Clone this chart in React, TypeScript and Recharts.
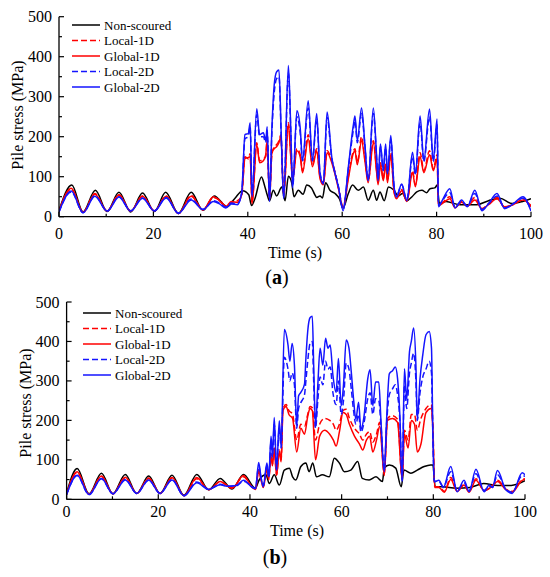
import { Legend, Line, LineChart, XAxis, YAxis } from "recharts";

type Pt = [number, number]; // [time (s), stress (MPa)]

// ---- panel (a) ----
const nonScouredA: Pt[] = [
  [0, 15], [2.7, 79], [5.1, 12], [7.7, 66], [10.2, 13], [12.7, 61], [15.2, 12], [17.7, 59], [20.2, 13],
  [22.6, 61], [25.3, 8], [28, 61], [30.5, 16], [32.9, 52], [35.6, 25], [37.2, 45], [38.9, 65], [40.2, 55],
  [40.8, 28], [41.5, 45], [42.9, 99], [43.5, 80], [44.1, 55], [44.6, 40], [45.4, 66], [46.1, 52], [47.2, 74],
  [47.9, 40], [48.6, 101], [49.3, 85], [49.8, 50], [50.7, 66], [51.7, 56], [52.5, 79], [53.5, 72], [54.2, 55],
  [54.6, 48], [55.3, 52], [55.8, 47], [56.5, 85], [57.4, 66], [58.5, 58], [59.4, 45], [60.2, 22], [61.3, 58],
  [62.2, 79], [63.4, 66], [64.5, 74], [65.5, 41], [66.6, 66], [67.3, 41], [68, 62], [68.9, 40], [69.8, 74],
  [70.8, 68], [71.9, 52], [72.8, 58], [73.7, 40], [74.8, 50], [75.8, 62], [76.9, 66], [77.9, 60], [78.6, 70],
  [79.6, 72], [80.1, 79], [80.6, 33], [82, 38], [85, 30], [88.5, 30], [91, 40], [93.4, 46], [96, 33],
  [98.2, 38], [100, 45],
];

const local1DA: Pt[] = [
  [0, 14], [2.6, 69], [5.1, 11], [7.6, 58], [10.2, 14], [12.7, 55], [15.2, 14], [17.7, 52], [20.2, 14],
  [22.7, 52], [25.3, 8], [28, 53], [30.5, 17], [32.7, 48], [34, 42], [35.3, 27], [36.5, 36], [37.8, 40],
  [38.7, 52], [39.4, 150], [40.1, 145], [40.5, 158], [40.9, 35], [41.9, 185], [42.5, 140], [43.3, 145],
  [43.8, 150], [44.1, 195], [44.6, 45], [45.1, 155], [45.6, 175], [46.1, 180], [46.6, 190], [47, 205],
  [47.6, 55], [48.6, 235], [49.1, 155], [49.5, 95], [50.4, 170], [51.1, 155], [51.6, 115], [52.8, 205],
  [53.7, 130], [54.6, 170], [55.3, 100], [56, 85], [56.8, 165], [57.8, 140], [58.5, 110], [59.2, 72],
  [60.2, 25], [61.3, 100], [62.4, 165], [62.7, 170], [63.2, 135], [64.1, 200], [64.8, 145], [65.5, 90],
  [66.6, 190], [67.3, 115], [67.6, 85], [68.1, 135], [68.7, 95], [69.2, 135], [69.6, 90], [70.3, 160],
  [71, 62], [71.5, 48], [72.6, 68], [73.7, 40], [74.9, 115], [75.5, 80], [76.5, 160], [77.3, 115],
  [78.5, 165], [79.3, 120], [80.1, 155], [80.4, 30], [81.2, 35], [82.8, 50], [83.9, 24], [85.3, 38],
  [86.5, 27], [88.1, 48], [89.6, 20], [91, 32], [92.8, 48], [94.4, 24], [96.2, 30], [98.3, 44], [100, 25],
];

const global1DA: Pt[] = [
  [0, 14], [2.6, 71], [5.1, 11], [7.6, 56], [10.2, 14], [12.7, 54], [15.2, 14], [17.7, 51], [20.2, 14],
  [22.7, 51], [25.3, 8], [28, 51], [30.5, 17], [32.7, 50], [34, 40], [35.3, 25], [36.5, 38], [37.8, 36],
  [38.7, 55], [39.4, 145], [40.1, 148], [40.5, 150], [40.9, 32], [41.9, 180], [42.5, 135], [43.3, 140],
  [43.8, 155], [44.1, 190], [44.6, 42], [45.1, 160], [45.6, 170], [46.1, 175], [46.6, 185], [47, 200],
  [47.6, 50], [48.6, 232], [49.1, 150], [49.5, 90], [50.4, 165], [51.1, 150], [51.6, 110], [52.8, 195],
  [53.7, 125], [54.6, 165], [55.3, 95], [56, 80], [56.8, 160], [57.8, 135], [58.5, 105], [59.2, 70],
  [60.2, 22], [61.3, 95], [62.4, 160], [62.7, 165], [63.2, 130], [64.1, 190], [64.8, 140], [65.5, 85],
  [66.6, 185], [67.3, 110], [67.6, 80], [68.1, 130], [68.7, 90], [69.2, 130], [69.6, 85], [70.3, 155],
  [71, 60], [71.5, 45], [72.6, 65], [73.7, 38], [74.9, 110], [75.5, 75], [76.5, 150], [77.3, 110],
  [78.5, 155], [79.3, 115], [80.1, 145], [80.4, 28], [81.2, 33], [82.8, 45], [83.9, 22], [85.3, 36],
  [86.5, 26], [88.1, 42], [89.6, 20], [91, 30], [92.8, 45], [94.4, 25], [96.2, 30], [98.3, 42], [100, 28],
];

const local2DA: Pt[] = [
  [0, 12], [2.6, 62], [5.1, 10], [7.6, 52], [10.2, 14], [12.7, 50], [15.2, 15], [17.7, 47], [20.2, 15],
  [22.7, 48], [25.3, 9], [28, 44], [30.5, 18], [32.8, 40], [34, 34], [35.3, 24], [36.5, 34], [37.8, 32],
  [38.7, 58], [39.4, 195], [40.1, 200], [40.5, 225], [40.9, 55], [41.9, 255], [42.5, 200], [43.3, 200],
  [43.8, 185], [44.1, 215], [44.6, 42], [45.1, 210], [45.6, 310], [46.1, 345], [46.6, 350], [47.1, 195],
  [47.6, 50], [48.6, 360], [49.1, 215], [49.5, 75], [50.4, 250], [51.1, 210], [51.6, 140], [52.8, 272],
  [53.7, 140], [54.6, 245], [55.3, 110], [56, 85], [56.8, 248], [57.8, 145], [58.5, 108], [59.2, 76],
  [60.2, 18], [61.3, 120], [62.4, 220], [62.7, 240], [63.2, 185], [64.1, 258], [64.8, 178], [65.5, 92],
  [66.6, 258], [67.3, 145], [67.6, 92], [68.1, 175], [68.7, 115], [69.2, 172], [69.6, 108], [70.3, 192],
  [71, 75], [71.5, 52], [72.6, 80], [73.7, 42], [74.9, 150], [75.5, 105], [76.5, 235], [77.3, 138],
  [78.5, 250], [79.3, 138], [80.1, 230], [80.4, 28], [81.2, 40], [82.8, 60], [83.9, 24], [85.3, 38],
  [86.5, 27], [88.1, 58], [89.6, 18], [91, 32], [92.8, 52], [94.4, 22], [96.2, 32], [98.3, 46], [100, 18],
];

const global2DA: Pt[] = [
  [0, 12], [2.6, 64], [5.1, 10], [7.6, 51], [10.2, 14], [12.7, 49], [15.2, 14], [17.7, 46], [20.2, 14],
  [22.7, 47], [25.3, 8], [28, 42], [30.5, 18], [32.7, 38], [34, 32], [35.3, 22], [36.5, 32], [37.8, 30],
  [38.7, 60], [39.4, 205], [40.1, 208], [40.5, 235], [40.9, 50], [41.9, 270], [42.5, 205], [43.3, 210],
  [43.8, 190], [44.1, 225], [44.6, 38], [45.1, 220], [45.6, 330], [46.1, 362], [46.6, 367], [47.1, 200],
  [47.6, 45], [48.6, 378], [49.1, 222], [49.5, 72], [50.4, 265], [51.1, 222], [51.6, 140], [52.8, 290],
  [53.7, 140], [54.6, 258], [55.3, 108], [56, 82], [56.8, 262], [57.8, 148], [58.5, 108], [59.2, 74],
  [60.2, 15], [61.3, 124], [62.4, 232], [62.7, 252], [63.2, 190], [64.1, 272], [64.8, 182], [65.5, 90],
  [66.6, 272], [67.3, 148], [67.6, 90], [68.1, 182], [68.7, 116], [69.2, 182], [69.6, 107], [70.3, 203],
  [71, 74], [71.5, 49], [72.6, 82], [73.7, 40], [74.9, 161], [75.5, 107], [76.5, 252], [77.3, 140],
  [78.5, 269], [79.3, 140], [80.1, 244], [80.4, 25], [81.2, 41], [82.8, 70], [83.9, 22], [85.3, 42],
  [86.5, 25], [88.1, 66], [89.6, 15], [91, 33], [92.8, 58], [94.4, 20], [96.2, 32], [98.3, 50], [100, 14],
];

// ---- panel (b) ----
const nonScouredB: Pt[] = [
  [0, 15], [2.3, 78], [4.9, 14], [7.6, 66], [10.1, 14], [12.8, 63], [15.3, 15], [17.9, 59], [20.4, 15],
  [23, 61], [25.6, 10], [28.4, 63], [31, 24], [33.5, 53], [36.1, 26], [38.6, 63], [41.2, 28], [42, 49],
  [43.5, 62], [44.2, 40], [45.3, 62], [46.4, 36], [47.5, 74], [48.6, 79], [49.3, 57], [50, 49], [51.1, 83],
  [52.2, 92], [52.9, 70], [53.7, 92], [54.5, 57], [55.8, 62], [57.3, 57], [58.4, 104], [59.5, 92],
  [60.6, 70], [62, 74], [63.5, 96], [64.5, 53], [66, 49], [67.5, 57], [68.9, 45], [69.3, 79], [70.4, 87],
  [71.8, 79], [73, 32], [73.6, 74], [75.1, 66], [76.5, 74], [78, 83], [79.4, 87], [79.9, 87], [80.4, 32],
  [82, 32], [85, 28], [88, 30], [91, 40], [94, 35], [97, 35], [100, 47],
];

const local1DB: Pt[] = [
  [0, 13], [2.3, 68], [4.9, 13], [7.6, 58], [10.1, 14], [12.8, 55], [15.3, 15], [17.9, 54], [20.4, 15],
  [23, 54], [25.6, 9], [28.4, 52], [31, 25], [33.5, 44], [36.1, 29], [38.6, 57], [40.5, 30], [41.2, 26],
  [41.9, 75], [42.4, 52], [42.9, 32], [43.7, 80], [44.1, 52], [44.6, 115], [44.9, 90], [45.3, 130],
  [45.8, 62], [46.4, 125], [46.8, 100], [47.2, 230], [47.9, 240], [48.5, 225], [49.3, 215], [50.2, 150],
  [51.1, 190], [51.9, 185], [52.6, 215], [53.1, 235], [53.6, 232], [54.3, 150], [55.2, 190], [56.3, 205],
  [57.4, 200], [58.2, 190], [58.8, 175], [59.5, 190], [60.3, 225], [61, 228], [61.7, 205], [62.8, 180],
  [63.9, 165], [64.6, 150], [65.4, 165], [66.1, 172], [66.8, 145], [67.6, 165], [68.3, 195], [69.3, 65],
  [70, 205], [71.1, 212], [72.2, 203], [73.2, 55], [73.7, 175], [74.5, 150], [75.2, 215], [75.9, 215],
  [76.5, 175], [77.3, 205], [78.4, 230], [79.5, 240], [79.9, 190], [80.3, 32], [81.2, 32], [82.4, 20],
  [83.8, 55], [85.2, 22], [86.7, 38], [87.8, 20], [89.3, 52], [91.1, 22], [92.9, 35], [94, 48], [95.8, 26],
  [97.2, 20], [99.4, 50], [100, 52],
];

const global1DB: Pt[] = [
  [0, 13], [2.3, 70], [4.9, 13], [7.6, 59], [10.1, 14], [12.8, 56], [15.3, 15], [17.9, 53], [20.4, 15],
  [23, 55], [25.6, 9], [28.4, 55], [31, 24], [33.5, 45], [36.1, 28], [38.6, 60], [40.5, 30], [41.2, 25],
  [41.9, 70], [42.4, 50], [42.9, 30], [43.7, 75], [44.1, 50], [44.6, 110], [44.9, 85], [45.3, 125],
  [45.8, 60], [46.4, 120], [46.8, 95], [47.2, 225], [47.9, 235], [48.5, 215], [49.3, 205], [50.2, 120],
  [51.1, 180], [51.9, 165], [52.6, 210], [53.1, 230], [53.6, 225], [54.3, 100], [55.2, 160], [56.3, 175],
  [57.4, 165], [58.2, 150], [58.8, 135], [59.5, 170], [60.3, 220], [61, 215], [61.7, 190], [62.8, 160],
  [63.9, 140], [64.6, 125], [65.4, 150], [66.1, 160], [66.8, 120], [67.6, 150], [68.3, 185], [69.3, 60],
  [70, 200], [71.1, 205], [72.2, 195], [73.2, 50], [73.7, 165], [74.5, 130], [75.2, 200], [75.9, 190],
  [76.5, 120], [77.3, 140], [78.4, 220], [79.5, 230], [79.9, 175], [80.3, 30], [81.2, 30], [82.4, 18],
  [83.8, 50], [85.2, 20], [86.7, 36], [87.8, 18], [89.3, 48], [91.1, 22], [92.9, 34], [94, 45], [95.8, 25],
  [97.2, 18], [99.4, 48], [100, 50],
];

const local2DB: Pt[] = [
  [0, 12], [2.3, 60], [4.9, 12], [7.6, 52], [10.1, 14], [12.8, 50], [15.3, 15], [17.9, 48], [20.4, 15],
  [23, 50], [25.6, 9], [28.4, 44], [31, 26], [33.5, 38], [35, 33], [37, 34], [38.6, 46], [40.5, 32],
  [41.2, 28], [41.9, 85], [42.4, 55], [42.9, 35], [43.7, 85], [44.1, 55], [44.6, 145], [44.9, 105],
  [45.3, 190], [45.8, 75], [46.4, 180], [46.8, 130], [47.5, 360], [48.3, 330], [48.7, 300], [49.2, 320],
  [49.7, 290], [50.2, 180], [50.6, 230], [51.1, 245], [51.9, 265], [52.2, 300], [52.6, 350], [53.1, 395],
  [53.6, 400], [53.9, 300], [54.3, 180], [54.8, 250], [55.3, 310], [55.9, 290], [56.5, 350], [57, 330],
  [57.5, 335], [58.1, 270], [58.8, 240], [59.3, 300], [59.9, 215], [60.4, 250], [61, 345], [61.6, 330],
  [62.1, 280], [62.6, 225], [63.1, 190], [63.7, 215], [64.2, 170], [64.9, 195], [65.7, 255], [66.2, 270],
  [66.8, 215], [67.4, 255], [68.1, 250], [68.6, 185], [69.3, 72], [69.8, 190], [70.4, 265], [71.1, 280],
  [71.7, 290], [72.2, 265], [72.7, 200], [73.2, 48], [73.7, 290], [74.2, 230], [74.8, 320], [75.2, 345],
  [75.7, 370], [76.2, 300], [76.5, 200], [77.1, 270], [77.7, 310], [78.4, 330], [79.1, 350], [79.6, 320],
  [79.9, 160], [80.2, 46], [81.2, 45], [82.2, 32], [83.8, 70], [85.2, 22], [86.7, 42], [87.8, 22],
  [89.3, 65], [91.1, 22], [92.2, 34], [92.9, 30], [94, 62], [95.8, 26], [97.2, 18], [99.4, 60], [100, 58],
];

const global2DB: Pt[] = [
  [0, 12], [2.3, 61], [4.9, 12], [7.6, 53], [10.1, 14], [12.8, 49], [15.3, 15], [17.9, 49], [20.4, 15],
  [23, 49], [25.6, 9], [28.4, 42], [31, 25], [33.5, 37], [35, 33], [37, 35], [38.6, 48], [40.5, 30],
  [41.2, 27], [41.9, 93], [42.4, 57], [42.9, 32], [43.7, 92], [44.1, 57], [44.6, 160], [44.9, 109],
  [45.3, 207], [45.8, 74], [46.4, 199], [46.8, 134], [47.5, 430], [48.3, 391], [48.7, 350], [49.2, 395],
  [49.7, 340], [50.2, 186], [50.6, 262], [51.1, 271], [51.9, 292], [52.2, 357], [52.6, 426], [53.1, 460],
  [53.6, 464], [53.9, 340], [54.3, 186], [54.8, 289], [55.3, 383], [55.9, 340], [56.5, 408], [57, 383],
  [57.5, 391], [58.1, 314], [58.8, 271], [59.3, 357], [59.9, 237], [60.4, 289], [61, 404], [61.6, 383],
  [62.1, 323], [62.6, 254], [63.1, 203], [63.7, 246], [64.2, 177], [64.9, 212], [65.7, 306], [66.2, 328],
  [66.8, 237], [67.4, 297], [68.1, 297], [68.6, 194], [69.3, 70], [69.8, 200], [70.4, 318], [71.1, 326],
  [71.7, 335], [72.2, 306], [72.7, 212], [73.2, 45], [73.7, 331], [74.2, 254], [74.8, 374], [75.2, 400],
  [75.7, 434], [76.2, 340], [76.5, 203], [77.1, 306], [77.7, 366], [78.4, 417], [79.1, 425], [79.6, 383],
  [79.9, 169], [80.2, 44], [81.2, 48], [82.2, 30], [83.8, 83], [85.2, 19], [86.7, 48], [87.8, 19],
  [89.3, 76], [91.1, 19], [92.2, 36], [92.9, 30], [94, 73], [95.8, 24], [97.2, 15], [99.4, 67], [100, 62],
];

const X_TICKS = [0, 10, 20, 30, 40, 50, 60, 70, 80, 90, 100];
const Y_TICKS = [0, 50, 100, 150, 200, 250, 300, 350, 400, 450, 500];

const LEGEND = ["Non-scoured", "Local-1D", "Global-1D", "Local-2D", "Global-2D"];

const FONT = "'Liberation Serif', 'Times New Roman', serif";
const RED = "#ff0000";
const BLUE = "#1414ff";
const DASH = "6 3";

type SeriesStyle = { name: string; color: string; dash?: string };

const STYLES: SeriesStyle[] = [
  { name: LEGEND[0], color: "#000000" },
  { name: LEGEND[1], color: RED, dash: DASH },
  { name: LEGEND[2], color: RED },
  { name: LEGEND[3], color: BLUE, dash: DASH },
  { name: LEGEND[4], color: BLUE },
];

const textStyle = { fontFamily: FONT, fill: "#000" };

const toRows = (pts: Pt[]) => pts.map(([t, v]) => ({ t, v }));

function XTick(props: any) {
  const { x, y, payload, labelGap } = props;
  const major = payload.value % 20 === 0;
  return (
    <g>
      <line x1={x} x2={x} y1={y} y2={y - (major ? 5 : 3)} stroke="#000" strokeWidth={1.2} />
      {major && (
        <text x={x} y={y + labelGap} textAnchor="middle" dominantBaseline="central"
          style={{ ...textStyle, fontSize: 16 }}>
          {payload.value}
        </text>
      )}
    </g>
  );
}

function YTick(props: any) {
  const { x, y, payload } = props;
  const major = payload.value % 100 === 0;
  return (
    <g>
      <line x1={x} x2={x + (major ? 5 : 3)} y1={y} y2={y} stroke="#000" strokeWidth={1.2} />
      {major && (
        <text x={x - 7} y={y} textAnchor="end" dominantBaseline="central"
          style={{ ...textStyle, fontSize: 16 }}>
          {payload.value}
        </text>
      )}
    </g>
  );
}

function LegendBox() {
  const rowH = 15.5;
  return (
    <svg width={110} height={rowH * 5 + 4} style={{ overflow: "visible" }}>
      {STYLES.map((s, i) => {
        const y = 8 + i * rowH;
        return (
          <g key={s.name}>
            <line x1={0} x2={28} y1={y} y2={y} stroke={s.color} strokeWidth={1.5} strokeDasharray={s.dash} />
            <text x={32} y={y} dominantBaseline="central" style={{ ...textStyle, fontSize: 13 }}>
              {s.name}
            </text>
          </g>
        );
      })}
    </svg>
  );
}

type PanelProps = {
  top: number;
  series: Pt[][];
  margin: { top: number; right: number; left: number; bottom: number };
  labelGap: number;
  legendPos: { left: number; top: number };
};

function Panel({ top, series, margin, labelGap, legendPos }: PanelProps) {
  return (
    <div style={{ position: "absolute", left: 0, top }}>
      <LineChart width={550} height={260} margin={margin}>
        <XAxis
          dataKey="t"
          type="number"
          domain={[0, 100]}
          ticks={X_TICKS}
          interval={0}
          height={30}
          tickSize={0}
          tickMargin={0}
          tickLine={false}
          axisLine={{ stroke: "#000", strokeWidth: 1.3 }}
          tick={<XTick labelGap={labelGap} />}
          allowDataOverflow
        />
        <YAxis
          type="number"
          domain={[0, 500]}
          ticks={Y_TICKS}
          interval={0}
          width={45}
          tickSize={0}
          tickMargin={0}
          tickLine={false}
          axisLine={{ stroke: "#000", strokeWidth: 1.3 }}
          tick={<YTick />}
          allowDataOverflow
        />
        <Legend
          layout="vertical"
          align="center"
          verticalAlign="middle"
          wrapperStyle={{ left: legendPos.left, top: legendPos.top, width: 120 }}
          content={() => <LegendBox />}
        />
        {series.map((pts, i) => (
          <Line
            key={STYLES[i].name}
            data={toRows(pts)}
            dataKey="v"
            name={STYLES[i].name}
            type="monotone"
            stroke={STYLES[i].color}
            strokeWidth={1.5}
            strokeDasharray={STYLES[i].dash}
            dot={false}
            activeDot={false}
            isAnimationActive={false}
          />
        ))}
      </LineChart>
    </div>
  );
}

export default function App() {
  return (
    <div style={{ position: "absolute", left: 0, top: 0, width: 550, height: 577, background: "#fff" }}>
      <Panel
        top={0}
        series={[nonScouredA, local1DA, global1DA, local2DA, global2DA]}
        margin={{ top: 16.7, right: 19, left: 14, bottom: 13.3 }}
        labelGap={16.5}
        legendPos={{ left: 72, top: 16.7 }}
      />
      <Panel
        top={290}
        series={[nonScouredB, local1DB, global1DB, local2DB, global2DB]}
        margin={{ top: 12, right: 25, left: 21.6, bottom: 20.7 }}
        labelGap={12.5}
        legendPos={{ left: 82.7, top: 14.7 }}
      />
      <svg width={550} height={577} style={{ position: "absolute", left: 0, top: 0, pointerEvents: "none" }}>
        <g textAnchor="middle" dominantBaseline="central" style={textStyle}>
          <text x={17} y={115} fontSize={16} transform="rotate(-90 17 115)">Pile stress (MPa)</text>
          <text x={295} y={252} fontSize={16}>Time (s)</text>
          <text x={277} y={277} fontSize={20}>(<tspan fontWeight="bold">a</tspan>)</text>
          <text x={25} y={403} fontSize={16} transform="rotate(-90 25 403)">Pile stress (MPa)</text>
          <text x={297} y={530} fontSize={16}>Time (s)</text>
          <text x={275} y={557} fontSize={20}>(<tspan fontWeight="bold">b</tspan>)</text>
        </g>
      </svg>
    </div>
  );
}
